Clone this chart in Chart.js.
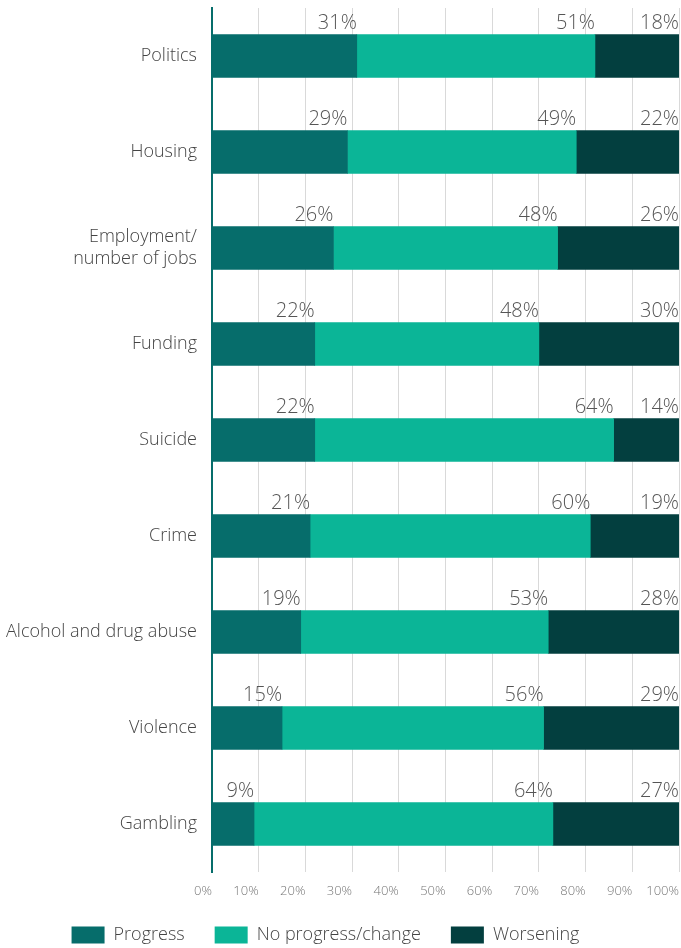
<!DOCTYPE html>
<html>
<head>
<meta charset="utf-8">
<script src="https://cdn.jsdelivr.net/npm/chart.js@4.4.1/dist/chart.umd.min.js"></script>
<style>
  html, body { margin: 0; padding: 0; background: #fff; }
  #wrap { width: 681px; height: 948px; }
</style>
</head>
<body>
<div id="wrap"><canvas id="issuesChart" width="681" height="948"></canvas></div>
<script>
// Issue categories and survey shares (%)
const categories = [
    'Politics',
    'Housing',
    ['Employment/', 'number of jobs'],
    'Funding',
    'Suicide',
    'Crime',
    'Alcohol and drug abuse',
    'Violence',
    'Gambling'
];
const progress   = [31, 29, 26, 22, 22, 21, 19, 15, 9];
const noProgress = [51, 49, 48, 48, 64, 60, 53, 56, 64];
const worsening  = [18, 22, 26, 30, 14, 19, 28, 29, 27];
const tickValues = [0, 10, 20, 30, 40, 50, 60, 70, 80, 90, 100];

const FONT = "'Open Sans', 'Liberation Sans', sans-serif";

// Percent labels sitting above each bar, right-aligned to the segment end
const segmentLabels = {
    id: 'segmentLabels',
    afterDatasetsDraw(chart) {
        const ctx = chart.ctx;
        ctx.save();
        ctx.font = '300 20px ' + FONT;
        ctx.fillStyle = '#555';
        ctx.textAlign = 'right';
        ctx.textBaseline = 'alphabetic';
        chart.data.datasets.forEach((ds, i) => {
            chart.getDatasetMeta(i).data.forEach((bar, j) => {
                const top = bar.y - bar.height / 2;
                ctx.fillText(ds.data[j] + '%', bar.x, top - 6);
            });
        });
        ctx.restore();
    }
};

// Keep the legend compact and nudge it a little to the left
const legendTweak = {
    id: 'legendTweak',
    afterInit(chart) {
        const legend = chart.legend;
        if (!legend) return;
        const fit = legend.fit.bind(legend);
        legend.fit = function() {
            fit();
            this.height = 52;
        };
        const draw = legend.draw.bind(legend);
        legend.draw = function(area) {
            this.ctx.save();
            this.ctx.translate(-14, 0);
            draw(area);
            this.ctx.restore();
        };
    }
};

new Chart(document.getElementById('issuesChart'), {
    type: 'bar',
    data: {
        labels: categories,
        datasets: [
            { label: 'Progress', data: progress, backgroundColor: '#066d6b' },
            { label: 'No progress/change', data: noProgress, backgroundColor: '#0bb597' },
            { label: 'Worsening', data: worsening, backgroundColor: '#033f3f' }
        ]
    },
    options: {
        indexAxis: 'y',
        responsive: false,
        animation: false,
        layout: { padding: { top: 8, right: 2, left: 0, bottom: 0 } },
        datasets: {
            bar: { barThickness: 43, borderWidth: 0 }
        },
        scales: {
            x: {
                stacked: true,
                min: 0,
                max: 100,
                afterBuildTicks(scale) {
                    scale.ticks = tickValues.map(v => ({ value: v }));
                },
                afterFit(scale) {
                    scale.height = 24;
                    scale.paddingLeft = 0;
                    scale.paddingRight = 0;
                },
                grid: { color: '#d9d9d9', lineWidth: 1, drawTicks: false },
                border: { display: false },
                ticks: {
                    align: 'end',
                    padding: 11,
                    color: '#777',
                    font: { family: FONT, size: 13, weight: 300 },
                    callback: v => v + '%'
                }
            },
            y: {
                stacked: true,
                afterFit(scale) {
                    scale.width = 212;
                    scale.paddingTop = 0;
                    scale.paddingBottom = 0;
                },
                grid: { display: false, drawTicks: false },
                border: { display: true, color: '#066d6b', width: 2 },
                ticks: {
                    padding: 15,
                    color: '#444',
                    font: { family: FONT, size: 18, weight: 300, lineHeight: 1.2 }
                }
            }
        },
        plugins: {
            legend: {
                position: 'bottom',
                labels: {
                    boxWidth: 33,
                    boxHeight: 17,
                    padding: 30,
                    color: '#444',
                    font: { family: FONT, size: 18, weight: 300 }
                }
            },
            tooltip: { enabled: false }
        }
    },
    plugins: [segmentLabels, legendTweak]
});
</script>
</body>
</html>
